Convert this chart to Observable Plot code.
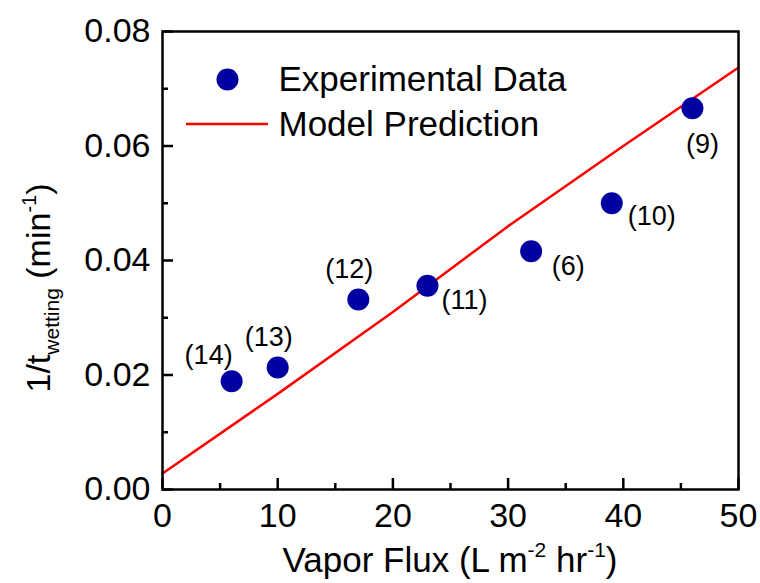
<!DOCTYPE html>
<html><head><meta charset="utf-8">
<script src="https://cdn.jsdelivr.net/npm/d3@7"></script>
<script src="https://cdn.jsdelivr.net/npm/@observablehq/plot@0.6"></script>
<style>body{margin:0;background:#fff}</style>
</head><body><div id="chart"></div>
<script>
const labels = ["(14)","(13)","(12)","(11)","(6)","(10)","(9)"];
const flux = [6, 10, 17, 23, 32, 39, 46];
const rate = [0.0189, 0.0213, 0.0332, 0.0356, 0.0416, 0.0500, 0.0666];
const labelPlacement = ["upleft","up","up","downright","downright","right","down"];
// Model prediction line
const modelFlux = [0, 10, 20, 30, 40, 50];
const modelRate = [0.0028, 0.0167, 0.0310, 0.0460, 0.0600, 0.0737];
// Ticks
const xTicks = [0, 10, 20, 30, 40, 50];
const xMinor = [5, 15, 25, 35, 45];
const yTicks = [0, 0.02, 0.04, 0.06, 0.08];
const yMinor = [0.01, 0.03, 0.05, 0.07];
const legendLabels = ["Experimental Data", "Model Prediction"];

const FONT = "'Liberation Sans', Arial, sans-serif";
const DOT = "#0000a0", RED = "#ff0000";
const W = 760, H = 583, ML = 162, MR = 22, MT = 31, MB = 94;
const FW = W - ML - MR, FH = H - MT - MB;
const offsets = {
  upleft: [-23, -26], up: [-9, -30], downright: [37, 15], right: [40, 13], down: [10, 36]
};
const pts = flux.map((x, i) => ({x, y: rate[i], label: labels[i], p: labelPlacement[i]}));
const model = modelFlux.map((x, i) => ({x, y: modelRate[i]}));

const labelMarks = Object.keys(offsets).map(k =>
  Plot.text(pts.filter(d => d.p === k), {x: "x", y: "y", text: "label",
    dx: offsets[k][0], dy: offsets[k][1], fontSize: 27, fill: "black"}));

const plot = Plot.plot({
  width: W, height: H,
  marginLeft: ML, marginRight: MR, marginTop: MT, marginBottom: MB,
  style: {fontFamily: FONT, background: "white", overflow: "visible"},
  x: {domain: [0, 50]},
  y: {domain: [0, 0.08]},
  marks: [
    Plot.line(model, {x: "x", y: "y", stroke: RED, strokeWidth: 2.5}),
    Plot.dot(pts, {x: "x", y: "y", r: 11, fill: DOT, stroke: "none"}),
    ...labelMarks,
    // inward ticks
    Plot.tickX(xTicks, {x: d => d, insetTop: FH - 11, stroke: "black", strokeWidth: 2.5}),
    Plot.tickX(xMinor, {x: d => d, insetTop: FH - 6, stroke: "black", strokeWidth: 2.5}),
    Plot.tickY(yTicks, {y: d => d, insetRight: FW - 11, stroke: "black", strokeWidth: 2.5}),
    Plot.tickY(yMinor, {y: d => d, insetRight: FW - 6, stroke: "black", strokeWidth: 2.5}),
    Plot.axisX({ticks: xTicks, tickSize: 0, tickPadding: 13, fontSize: 34, label: null, fill: "black"}),
    Plot.axisY({ticks: yTicks, tickSize: 0, tickPadding: 12, fontSize: 34, label: null,
      tickFormat: d3.format(".2f"), fill: "black"}),
    Plot.frame({stroke: "black", strokeWidth: 2.5}),
    // legend
    Plot.dot([legendLabels[0]], {frameAnchor: "top-left", dx: 65, dy: 48, r: 11, fill: DOT}),
    Plot.text([legendLabels[0]], {frameAnchor: "top-left", dx: 116, dy: 48, text: d => d, textAnchor: "start", lineAnchor: "middle", fontSize: 35, fill: "black"}),
    Plot.text([legendLabels[1]], {frameAnchor: "top-left", dx: 116, dy: 93, text: d => d, textAnchor: "start", lineAnchor: "middle", fontSize: 35, fill: "black"})
  ]
});

const svg = d3.select(plot);
// legend line swatch
svg.append("line").attr("x1", 186).attr("x2", 268).attr("y1", 124).attr("y2", 124)
  .attr("stroke", RED).attr("stroke-width", 2.5);

// x axis title
const xt = svg.append("text").attr("x", 450).attr("y", 572).attr("text-anchor", "middle")
  .attr("font-family", FONT).attr("font-size", 35).attr("fill", "black");
xt.append("tspan").text("Vapor Flux (L m");
xt.append("tspan").attr("font-size", 21).attr("dy", -15).text("-2");
xt.append("tspan").attr("dy", 15).text(" hr");
xt.append("tspan").attr("font-size", 21).attr("dy", -15).text("-1");
xt.append("tspan").attr("dy", 15).text(")");

// y axis title
const yt = svg.append("text").attr("transform", "translate(50,288) rotate(-90)")
  .attr("text-anchor", "middle").attr("font-family", FONT).attr("font-size", 34).attr("fill", "black");
yt.append("tspan").text("1/t");
yt.append("tspan").attr("font-size", 21).attr("dy", 9).text("wetting");
yt.append("tspan").attr("dy", -9).text(" (min");
yt.append("tspan").attr("font-size", 20).attr("dy", -14).text("-1");
yt.append("tspan").attr("dy", 14).text(")");

document.getElementById("chart").appendChild(plot);
</script>
</body></html>
